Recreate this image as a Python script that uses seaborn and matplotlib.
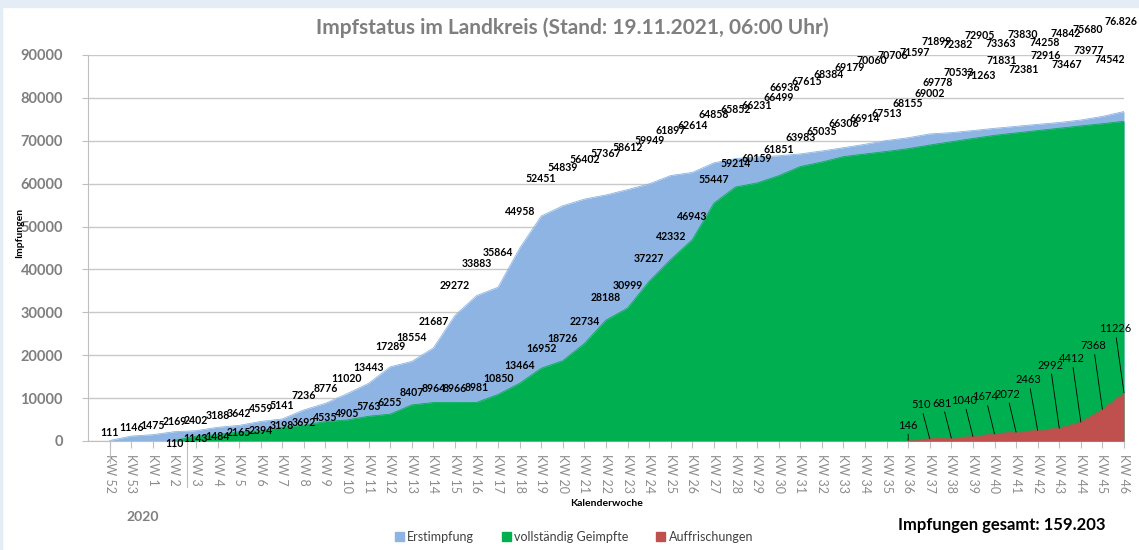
import numpy as np
import pandas as pd
import matplotlib
matplotlib.use("Agg")
import matplotlib.pyplot as plt
from matplotlib.patches import Patch, Rectangle
import seaborn as sns

# Kalenderwochen (KW 52 / 53 of 2020, then 2021)
weeks = ["KW 52", "KW 53"] + [f"KW {k}" for k in range(1, 47)]

erstimpfung = [111, 1146, 1475, 2169, 2402, 3188, 3642, 4559, 5141, 7236,
               8776, 11020, 13443, 17289, 18554, 21687, 29272, 33883, 35864, 44958,
               52451, 54839, 56402, 57367, 58612, 59949, 61897, 62614, 64858, 65852,
               66231, 66499, 66936, 67615, 68384, 69179, 70060, 70706, 71597, 71899,
               72382, 72905, 73363, 73830, 74258, 74842, 75680, 76826]

# fully vaccinated, starting at KW 2
geimpft = [110, 1143, 1484, 2165, 2394, 3198, 3692, 4535, 4905, 5763,
           6255, 8407, 8964, 8966, 8981, 10850, 13464, 16952, 18726, 22734,
           28188, 30999, 37227, 42332, 46943, 55447, 59214, 60159, 61851, 63983,
           65035, 66306, 66914, 67513, 68155, 69002, 69778, 70533, 71263, 71831,
           72381, 72916, 73467, 73977, 74542]

# booster, starting at KW 36
auffrischung = [146, 510, 681, 1040, 1674, 2072, 2463, 2992, 4412, 7368, 11226]

total_text = "Impfungen gesamt: 159.203"

c_blue = "#8DB4E2"
c_green = "#00B050"
c_red = "#C0504D"
grey = "#7F7F7F"

n = len(weeks)
x_all = np.arange(n)
x_green = np.arange(n - len(geimpft), n)
x_red = np.arange(n - len(auffrischung), n)

rows = []
for name, xs, vals in [("Erstimpfung", x_all, erstimpfung),
                       ("vollständig Geimpfte", x_green, geimpft),
                       ("Auffrischungen", x_red, auffrischung)]:
    for xv, v in zip(xs, vals):
        rows.append({"pos": xv, "value": v, "series": name})
df = pd.DataFrame(rows)

sns.set_theme(style="white")
plt.rcParams['font.family'] = ['Lato', 'DejaVu Sans']

fig = plt.figure(figsize=(11.39, 5.5), dpi=100)
ax = fig.add_axes([88 / 1139, 1 - 441 / 550, (1124 - 88) / 1139, (441 - 55) / 550])

# light frame at the top of the screenshot
fig.patches.append(Rectangle((0, 1 - 7 / 550), 1, 7 / 550, transform=fig.transFigure,
                             color="#E4ECF5", zorder=0))
fig.patches.append(Rectangle((0, 0), 2 / 1139, 1, transform=fig.transFigure,
                             color="#E4ECF5", zorder=0))

ax.fill_between(x_all, erstimpfung, color=c_blue, lw=0, zorder=2)
ax.fill_between(x_green, geimpft, color=c_green, lw=0, zorder=3)
ax.fill_between(x_red, auffrischung, color=c_red, lw=0, zorder=4)
sns.lineplot(data=df, x="pos", y="value", hue="series", ax=ax, legend=False, lw=0.6,
             palette={"Erstimpfung": c_blue, "vollständig Geimpfte": c_green,
                      "Auffrischungen": c_red}, zorder=5)

ax.set_xlim(-1, n - 1)
ax.set_ylim(0, 90000)
ax.set_yticks(np.arange(0, 90001, 10000))
ax.yaxis.grid(True, color="#C8C8C8", lw=1)
ax.set_axisbelow(True)
ax.set_xticks(x_all)
ax.set_xticklabels(weeks, rotation=-90, fontsize=9, color="#8C8C8C")
ax.tick_params(axis="x", length=5, width=0.8, color="#BFBFBF", pad=4, bottom=True)
ax.tick_params(axis="y", length=4, width=0.8, color="#BFBFBF", pad=14, left=True,
               labelsize=10.5, labelcolor=grey)
for lab in ax.get_yticklabels():
    lab.set_fontweight("bold")
for s in ["top", "right"]:
    ax.spines[s].set_visible(False)
for s in ["left", "bottom"]:
    ax.spines[s].set_color("#BFBFBF")
    ax.spines[s].set_linewidth(0.8)

ax.set_xlabel("")
ax.set_ylabel("Impfungen", fontsize=7.5, fontweight="bold", color="black")
ax.yaxis.set_label_coords(-0.062, 0.54)

# category group separators
ax.plot([0, 0], [0, -0.058], transform=ax.get_xaxis_transform(), color="#BFBFBF",
        lw=0.8, clip_on=False)
ax.plot([3.6, 3.6], [0, -0.12], transform=ax.get_xaxis_transform(), color="#BFBFBF",
        lw=0.8, clip_on=False)

# data labels
blue_dy = np.interp(x_all, [0, 12, 14, 18, 26, 30, 32, 36, 40, 45, 47],
                    [8, 16, 24, 35, 45, 51, 66, 80, 90, 83, 90])
for i, v in enumerate(erstimpfung):
    alt = (4 if i % 2 == 1 else -4) if 38 <= i <= 45 else 0
    dx = -15 if i >= 32 else 0
    if i == n - 1:
        dx = -3
    ax.annotate(f"{v}" if i < n - 1 else "76.826", (i, v), xytext=(dx, blue_dy[i] + alt),
                textcoords="offset pixels", ha="center", va="center",
                fontsize=7.6, fontweight="bold", color="black", annotation_clip=False,
                zorder=10)

green_dy = np.interp(x_green, [3, 7, 10, 13, 18, 21, 30, 36, 40, 47],
                     [-3, 0, 4, 12, 16, 22, 24, 38, 66, 68])
for j, (xv, v) in enumerate(zip(x_green, geimpft)):
    dx = -14 if xv >= 39 else 0
    alt = (6 if xv % 2 == 0 else -6) if xv >= 41 else 0
    ax.annotate(f"{v}", (xv, v), xytext=(dx, green_dy[j] + alt), textcoords="offset pixels",
                ha="center", va="center", fontsize=7.6, fontweight="bold",
                color="black", annotation_clip=False, zorder=10)

red_dy = np.interp(x_red, [37, 38, 42, 44, 47], [15, 34, 38, 63, 64])
for j, (xv, v) in enumerate(zip(x_red, auffrischung)):
    dx = 0 if j == 0 else -9
    ax.annotate(f"{v}", (xv, v), xytext=(dx, red_dy[j]), textcoords="offset pixels",
                ha="center", va="center", fontsize=8, color="black",
                annotation_clip=False, zorder=10,
                arrowprops=dict(arrowstyle="-", color="black", lw=0.6,
                                shrinkA=0, shrinkB=0))

fig.text(572 / 1139, 1 - 28 / 550, "Impfstatus im Landkreis (Stand: 19.11.2021, 06:00 Uhr)",
         ha="center", va="center", fontsize=15, fontweight="bold", color=grey)
fig.text(607 / 1139, 1 - 503 / 550, "Kalenderwoche", ha="center", va="center",
         fontsize=7.5, fontweight="bold", color="black")
fig.text(143 / 1139, 1 - 517 / 550, "2020", ha="center", va="center",
         fontsize=10, fontweight="bold", color=grey)
fig.text(1002 / 1139, 1 - 525 / 550, total_text, ha="center", va="center",
         fontsize=12, fontweight="bold", color="black")

handles = [Patch(color=c_blue, label="Erstimpfung"),
           Patch(color=c_green, label="vollständig Geimpfte"),
           Patch(color=c_red, label="Auffrischungen")]
fig.legend(handles=handles, loc="center", bbox_to_anchor=(574 / 1139, 1 - 537 / 550),
           ncol=3, frameon=False, fontsize=9, handlelength=0.7, handleheight=0.7,
           handletextpad=0.3, columnspacing=2.2, labelcolor="#404040")

fig.savefig("out.png", dpi=100)
